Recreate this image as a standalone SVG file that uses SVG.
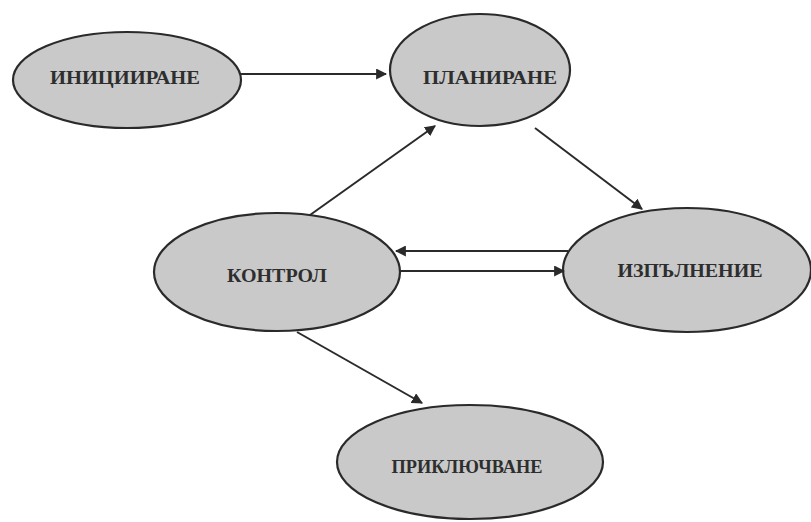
<svg xmlns="http://www.w3.org/2000/svg" width="811" height="522" viewBox="0 0 811 522">
<style>
.node ellipse{fill:#c9c9c9;stroke:#2a2a2a;stroke-width:2.2}
.node text{font-family:"Liberation Serif","DejaVu Serif",serif;font-weight:bold;font-size:18px;fill:#2e2e2e;text-anchor:middle;dominant-baseline:central}
.edges line{stroke:#2a2a2a;stroke-width:2;marker-end:url(#ah)}
</style>
<defs>
<marker id="ah" viewBox="0 0 10 10" refX="9" refY="5" markerWidth="5.5" markerHeight="5.5" orient="auto" markerUnits="strokeWidth">
<path d="M0,0 L10,5 L0,10 z" fill="#2a2a2a"/>
</marker>
</defs>
<rect width="811" height="522" fill="#ffffff"/>
<g id="n-init" class="node">
<ellipse cx="127" cy="80" rx="114" ry="48"/>
<text x="125" y="78" textLength="150" lengthAdjust="spacingAndGlyphs">ИНИЦИИРАНЕ</text>
</g>
<g id="n-plan" class="node">
<ellipse cx="480" cy="70" rx="90" ry="56"/>
<text x="490" y="78" textLength="134" lengthAdjust="spacingAndGlyphs">ПЛАНИРАНЕ</text>
</g>
<g id="n-ctrl" class="node">
<ellipse cx="277" cy="272" rx="123" ry="59"/>
<text x="277" y="276" textLength="100" lengthAdjust="spacingAndGlyphs">КОНТРОЛ</text>
</g>
<g id="n-izp" class="node">
<ellipse cx="687" cy="270" rx="124" ry="62"/>
<text x="690" y="271" textLength="145" lengthAdjust="spacingAndGlyphs">ИЗПЪЛНЕНИЕ</text>
</g>
<g id="n-prik" class="node">
<ellipse cx="470" cy="462" rx="133" ry="57"/>
<text x="467" y="467" textLength="151" lengthAdjust="spacingAndGlyphs">ПРИКЛЮЧВАНЕ</text>
</g>
<g id="edges" class="edges">
<line x1="241" y1="74" x2="386" y2="74"/>
<line x1="535" y1="128" x2="642" y2="209"/>
<line x1="310" y1="215" x2="435" y2="126"/>
<line x1="568" y1="251" x2="396" y2="251"/>
<line x1="400" y1="271" x2="564" y2="271"/>
<line x1="297" y1="332" x2="422" y2="403"/>
</g>
</svg>
